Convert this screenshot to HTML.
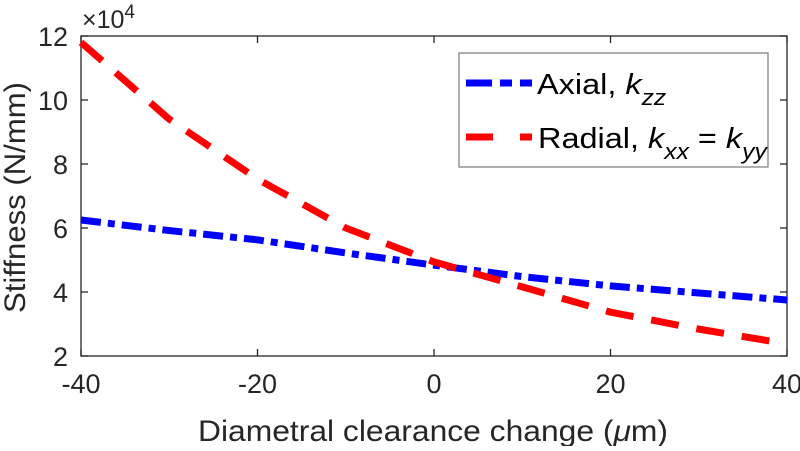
<!DOCTYPE html>
<html><head><meta charset="utf-8"><style>
body{margin:0;background:#fff;}
svg text{font-family:"Liberation Sans",Arial,sans-serif;fill:#262626;}
</style></head><body>
<svg id="chart" width="800" height="446" viewBox="0 0 800 446">
<g id="plot"></g>
</svg>
<script>
const xValues=[-40,-30,-20,-10,0,10,20,30,40];
const axialValues=[6.25,5.92,5.63,5.22,4.84,4.48,4.19,3.97,3.75];
const radialValues=[11.8,9.4,7.53,6.0,4.94,4.16,3.37,2.84,2.38];
const xTicks=[-40,-20,0,20,40];
const yTicks=[2,4,6,8,10,12];
const NS="http://www.w3.org/2000/svg";
const L=81,R=787,T=36,B=356;
const sx=v=>L+(v+40)/80*(R-L);
const sy=v=>B-(v-2)/10*(B-T);
const g=document.getElementById('plot');
function mk(tag,attrs,parent){const e=document.createElementNS(NS,tag);for(const k in attrs)e.setAttribute(k,attrs[k]);(parent||g).appendChild(e);return e;}
const box=mk('rect',{x:L,y:T,width:R-L,height:B-T,fill:'none',stroke:'#262626','stroke-width':1.3});


xTicks.forEach(t=>{
  const x=sx(t);
  const l1=mk('line',{x1:x,x2:x,y1:B,y2:B-7,stroke:'#262626','stroke-width':1.3});
  
  
  const l2=mk('line',{x1:x,x2:x,y1:T,y2:T+7,stroke:'#262626','stroke-width':1.3});
  
  
  const tx=mk('text',{x:x,y:B+37,'text-anchor':'middle','font-size':27});
  tx.textContent=t;
  
  
});
yTicks.forEach(t=>{
  const y=sy(t);
  const l1=mk('line',{x1:L,x2:L+7,y1:y,y2:y,stroke:'#262626','stroke-width':1.3});
  
  
  const l2=mk('line',{x1:R,x2:R-7,y1:y,y2:y,stroke:'#262626','stroke-width':1.3});
  
  
  const tx=mk('text',{x:L-13,y:y+10,'text-anchor':'end','font-size':27});
  tx.textContent=t;
  
  
});
function series(vals,color,dash,name){
  const pts=xValues.map((x,i)=>sx(x)+','+sy(vals[i])).join(' ');
  const p=mk('polyline',{points:pts,fill:'none',stroke:color,'stroke-width':7,'stroke-dasharray':dash});
  
  
}
series(axialValues,'#0000ff','20 7 7 7','axial-line');
series(radialValues,'#ff0000','28 18','radial-line');
</script>
<svg width="800" height="446" style="position:absolute;left:0;top:0">
<text x="82" y="28" font-size="25" style="font-family:'Liberation Sans',sans-serif;fill:#262626">×10<tspan dy="-10" font-size="19">4</tspan></text>
<text x="198" y="441" font-size="30" textLength="470" lengthAdjust="spacingAndGlyphs" style="font-family:'Liberation Sans',sans-serif;fill:#262626">Diametral clearance change (<tspan font-style="italic">μ</tspan>m)</text>
<text transform="translate(25,313) rotate(-90)" x="0" y="0" font-size="30" textLength="231" lengthAdjust="spacingAndGlyphs" style="font-family:'Liberation Sans',sans-serif;fill:#262626">Stiffness (N/mm)</text>
<g>
<rect x="459" y="53" width="309" height="114" fill="#fff" stroke="#7a7a7a" stroke-width="1.2"/>
<line x1="466" y1="83" x2="532" y2="83" stroke="#0000ff" stroke-width="7" stroke-dasharray="26 8 12 8 14"/>
<g transform="translate(537,94) scale(1.12,1)">
<text x="0" y="0" font-size="29" style="font-family:'Liberation Sans',sans-serif;fill:#000">Axial, <tspan font-style="italic">k</tspan><tspan font-style="italic" font-size="22" dy="11">zz</tspan></text>
</g>
<line x1="466" y1="137" x2="532" y2="137" stroke="#ff0000" stroke-width="7" stroke-dasharray="27 27 13"/>
<g transform="translate(538,148) scale(1.12,1)">
<text x="0" y="0" font-size="29" style="font-family:'Liberation Sans',sans-serif;fill:#000">Radial, <tspan font-style="italic">k</tspan><tspan font-style="italic" font-size="22" dy="11">xx</tspan><tspan dy="-11"> = </tspan><tspan font-style="italic">k</tspan><tspan font-style="italic" font-size="22" dy="11">yy</tspan></text>
</g>
</g>
</svg>
</body></html>
